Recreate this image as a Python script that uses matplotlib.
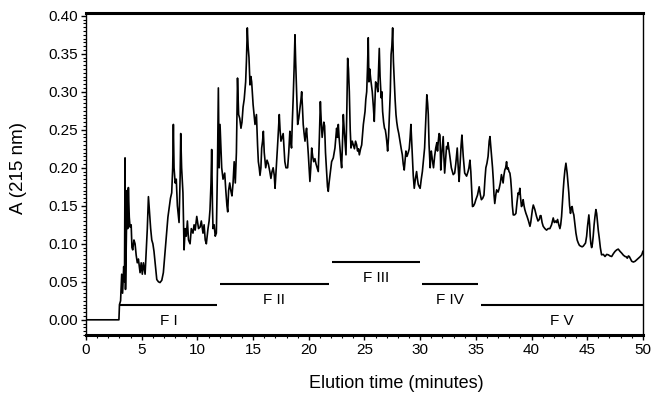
import matplotlib
matplotlib.use("Agg")
import matplotlib.pyplot as plt
from matplotlib.ticker import MultipleLocator

plt.rcParams['font.family'] = ['Liberation Sans', 'DejaVu Sans']

# chromatogram: elution time (min) and absorbance at 215 nm
time_min = [
    0, 2.95, 3.0, 3.1, 3.2, 3.28, 3.38, 3.45, 3.5, 3.54, 3.6, 3.68, 3.74, 3.8, 3.88, 3.95,
    4.05, 4.12, 4.19, 4.3, 4.4, 4.5, 4.6, 4.7, 4.85, 4.95, 5.05, 5.15, 5.3, 5.4, 5.5, 5.6,
    5.7, 5.8, 5.9, 6.0, 6.1, 6.2, 6.35, 6.5, 6.64, 6.8, 6.94, 7.1, 7.24, 7.35, 7.48, 7.58,
    7.69, 7.78, 7.84, 7.9, 8.0, 8.1, 8.2, 8.35, 8.45, 8.5, 8.58, 8.7, 8.8, 8.9, 9.0, 9.1,
    9.2, 9.34, 9.45, 9.6, 9.7, 9.8, 9.94, 10.1, 10.24, 10.35, 10.5, 10.6, 10.7, 10.8, 10.95,
    11.05, 11.13, 11.22, 11.28, 11.35, 11.4, 11.5, 11.6, 11.7, 11.8, 11.88, 11.95, 12.03,
    12.1, 12.18, 12.3, 12.45, 12.55, 12.65, 12.72, 12.8, 12.9, 13.0, 13.1, 13.2, 13.3, 13.4,
    13.5, 13.6, 13.7, 13.8, 13.91, 14.0, 14.1, 14.2, 14.33, 14.4, 14.48, 14.55, 14.63, 14.72,
    14.8, 14.87, 15.0, 15.08, 15.17, 15.3, 15.4, 15.47, 15.55, 15.62, 15.7, 15.77, 15.85,
    15.92, 16.0, 16.13, 16.25, 16.37, 16.5, 16.6, 16.7, 16.8, 16.9, 16.97, 17.1, 17.2, 17.35,
    17.42, 17.5, 17.6, 17.7, 17.78, 17.85, 17.95, 18.1, 18.2, 18.3, 18.38, 18.45, 18.52,
    18.6, 18.68, 18.76, 18.82, 18.88, 18.95, 19.0, 19.1, 19.21, 19.3, 19.36, 19.43, 19.5,
    19.58, 19.66, 19.73, 19.8, 19.88, 19.96, 20.03, 20.1, 20.18, 20.26, 20.35, 20.44, 20.55,
    20.65, 20.75, 20.85, 20.95, 21.04, 21.12, 21.2, 21.28, 21.35, 21.42, 21.5, 21.6, 21.68,
    21.75, 21.82, 21.9, 22.05, 22.2, 22.35, 22.5, 22.58, 22.65, 22.72, 22.8, 22.88, 22.95,
    23.02, 23.1, 23.18, 23.25, 23.34, 23.42, 23.49, 23.56, 23.64, 23.72, 23.79, 23.9, 24.0,
    24.1, 24.2, 24.3, 24.38, 24.46, 24.54, 24.65, 24.75, 24.9, 25.05, 25.12, 25.2, 25.27,
    25.34, 25.4, 25.47, 25.55, 25.62, 25.7, 25.8, 25.88, 25.95, 26.0, 26.1, 26.2, 26.27,
    26.33, 26.4, 26.5, 26.56, 26.63, 26.72, 26.8, 26.87, 26.94, 27.0, 27.08, 27.16, 27.24,
    27.32, 27.39, 27.46, 27.53, 27.6, 27.68, 27.75, 27.83, 27.9, 27.98, 28.08, 28.19, 28.3,
    28.4, 28.48, 28.57, 28.65, 28.72, 28.82, 28.93, 29.02, 29.1, 29.17, 29.24, 29.3, 29.38,
    29.47, 29.57, 29.68, 29.76, 29.83, 29.92, 30.0, 30.1, 30.2, 30.3, 30.4, 30.5, 30.6,
    30.67, 30.73, 30.8, 30.9, 30.95, 31.0, 31.1, 31.2, 31.3, 31.4, 31.5, 31.56, 31.63, 31.7,
    31.78, 31.85, 31.95, 32.07, 32.13, 32.2, 32.28, 32.37, 32.45, 32.5, 32.58, 32.67, 32.8,
    32.97, 33.1, 33.2, 33.33, 33.42, 33.5, 33.6, 33.68, 33.75, 33.87, 34.0, 34.17, 34.3,
    34.38, 34.47, 34.55, 34.6, 34.7, 34.8, 34.9, 35.0, 35.15, 35.3, 35.4, 35.5, 35.62, 35.73,
    35.82, 35.9, 36.0, 36.1, 36.2, 36.27, 36.33, 36.4, 36.5, 36.57, 36.63, 36.7, 36.8, 36.87,
    37.0, 37.1, 37.2, 37.3, 37.38, 37.45, 37.52, 37.6, 37.68, 37.76, 37.83, 37.9, 37.98,
    38.06, 38.13, 38.2, 38.28, 38.36, 38.48, 38.6, 38.7, 38.8, 38.88, 38.95, 39.02, 39.1,
    39.18, 39.25, 39.33, 39.4, 39.5, 39.6, 39.73, 39.86, 39.93, 40.0, 40.08, 40.16, 40.23,
    40.3, 40.38, 40.45, 40.58, 40.7, 40.78, 40.85, 40.95, 41.05, 41.2, 41.35, 41.5, 41.65,
    41.8, 41.95, 42.05, 42.16, 42.25, 42.34, 42.45, 42.55, 42.62, 42.7, 42.78, 42.85, 42.92,
    43.0, 43.09, 43.2, 43.28, 43.35, 43.42, 43.5, 43.58, 43.65, 43.72, 43.8, 43.9, 43.99,
    44.1, 44.2, 44.3, 44.4, 44.55, 44.65, 44.75, 44.85, 44.95, 45.03, 45.1, 45.15, 45.22,
    45.27, 45.33, 45.4, 45.47, 45.54, 45.62, 45.7, 45.78, 45.85, 45.93, 46.0, 46.08, 46.18,
    46.29, 46.45, 46.6, 46.75, 46.9, 47.05, 47.2, 47.35, 47.5, 47.65, 47.79, 47.95, 48.1,
    48.25, 48.4, 48.5, 48.6, 48.7, 48.78, 48.9, 49.0, 49.15, 49.3, 49.45, 49.6, 49.75, 49.9,
    50.0,
]
absorbance = [
    0, 0, 0.02, 0.025, 0.06, 0.035, 0.07, 0.05, 0.213, 0.04, 0.09, 0.17, 0.12, 0.174, 0.135, 0.122,
    0.125, 0.095, 0.092, 0.105, 0.1, 0.085, 0.075, 0.08, 0.062, 0.075, 0.06, 0.075, 0.06, 0.09, 0.12, 0.162,
    0.14, 0.12, 0.105, 0.1, 0.09, 0.075, 0.053, 0.05, 0.049, 0.052, 0.062, 0.09, 0.114, 0.135, 0.149, 0.16,
    0.167, 0.2, 0.257, 0.2, 0.18, 0.185, 0.15, 0.128, 0.19, 0.245, 0.2, 0.167, 0.092, 0.12, 0.11, 0.13,
    0.105, 0.1, 0.12, 0.114, 0.125, 0.118, 0.136, 0.12, 0.122, 0.13, 0.114, 0.125, 0.105, 0.1, 0.12,
    0.13, 0.145, 0.18, 0.224, 0.15, 0.12, 0.125, 0.11, 0.114, 0.2, 0.305, 0.2, 0.257,
    0.23, 0.2, 0.185, 0.193, 0.17, 0.15, 0.142, 0.17, 0.18, 0.17, 0.163, 0.18, 0.208, 0.18,
    0.22, 0.318, 0.27, 0.265, 0.252, 0.26, 0.28, 0.29, 0.313, 0.34, 0.384, 0.36, 0.345, 0.309,
    0.32, 0.313, 0.283, 0.27, 0.257, 0.27, 0.23, 0.208, 0.2, 0.19, 0.2, 0.226, 0.235,
    0.248, 0.22, 0.2, 0.21, 0.205, 0.195, 0.186, 0.195, 0.2, 0.19, 0.173, 0.205, 0.23, 0.27,
    0.25, 0.235, 0.24, 0.245, 0.225, 0.208, 0.2, 0.2, 0.22, 0.248, 0.235, 0.226, 0.26,
    0.292, 0.33, 0.375, 0.34, 0.313, 0.28, 0.257, 0.265, 0.279, 0.29, 0.3, 0.28, 0.257,
    0.245, 0.235, 0.245, 0.252, 0.235, 0.217, 0.2, 0.182, 0.2, 0.226, 0.215, 0.208, 0.212,
    0.205, 0.2, 0.195, 0.24, 0.287, 0.26, 0.24, 0.25, 0.26, 0.255, 0.22, 0.195, 0.175,
    0.169, 0.18, 0.19, 0.208, 0.213, 0.226, 0.252, 0.24, 0.257, 0.24, 0.226, 0.21, 0.2,
    0.23, 0.27, 0.25, 0.235, 0.217, 0.28, 0.344, 0.33, 0.3, 0.25, 0.226, 0.235, 0.23,
    0.225, 0.235, 0.23, 0.222, 0.225, 0.217, 0.225, 0.23, 0.257, 0.274, 0.29, 0.3, 0.33,
    0.371, 0.313, 0.33, 0.318, 0.31, 0.3, 0.28, 0.261, 0.29, 0.313, 0.31, 0.3, 0.33,
    0.357, 0.32, 0.292, 0.3, 0.274, 0.26, 0.252, 0.25, 0.243, 0.235, 0.222, 0.24, 0.27,
    0.3, 0.349, 0.36, 0.384, 0.34, 0.313, 0.29, 0.27, 0.26, 0.252, 0.245, 0.235, 0.225,
    0.217, 0.205, 0.197, 0.21, 0.222, 0.215, 0.22, 0.225, 0.24, 0.257, 0.235, 0.217, 0.19,
    0.173, 0.185, 0.195, 0.185, 0.178, 0.175, 0.173, 0.185, 0.195, 0.21, 0.226, 0.26, 0.296,
    0.285, 0.27, 0.23, 0.2, 0.215, 0.222, 0.21, 0.2, 0.215, 0.226, 0.233, 0.222, 0.235, 0.245,
    0.243, 0.197, 0.22, 0.241, 0.215, 0.193, 0.21, 0.228, 0.225, 0.233, 0.225, 0.215, 0.2,
    0.191, 0.193, 0.205, 0.226, 0.2, 0.182, 0.21, 0.23, 0.243, 0.215, 0.193, 0.189, 0.195,
    0.2, 0.21, 0.195, 0.18, 0.149, 0.15, 0.153, 0.158, 0.164, 0.175, 0.165, 0.158, 0.16, 0.164,
    0.185, 0.2, 0.206, 0.215, 0.235, 0.241, 0.23, 0.219, 0.2, 0.184, 0.165, 0.153, 0.165, 0.171,
    0.168, 0.173, 0.18, 0.191, 0.185, 0.18, 0.19, 0.197, 0.2, 0.208, 0.198, 0.2, 0.195,
    0.193, 0.185, 0.171, 0.15, 0.138, 0.138, 0.14, 0.155, 0.167, 0.165, 0.173, 0.16, 0.149,
    0.152, 0.158, 0.15, 0.145, 0.14, 0.136, 0.13, 0.123, 0.128, 0.136, 0.145, 0.151, 0.148,
    0.145, 0.14, 0.136, 0.13, 0.132, 0.137, 0.137, 0.128, 0.123, 0.12, 0.118, 0.12, 0.12,
    0.125, 0.134, 0.128, 0.13, 0.128, 0.132, 0.125, 0.12, 0.125, 0.136, 0.155, 0.171, 0.185,
    0.197, 0.206, 0.193, 0.18, 0.167, 0.15, 0.14, 0.148, 0.149, 0.142, 0.138, 0.125, 0.114,
    0.105, 0.101, 0.098, 0.097, 0.096, 0.097, 0.099, 0.101, 0.11, 0.123, 0.132, 0.138, 0.125,
    0.11, 0.1, 0.095, 0.1, 0.11, 0.125, 0.136, 0.145, 0.14, 0.127, 0.117, 0.108, 0.095,
    0.0855, 0.086, 0.0833, 0.086, 0.0855, 0.084, 0.0833, 0.087, 0.09, 0.092, 0.093, 0.09, 0.0877,
    0.085, 0.0833, 0.083, 0.081, 0.084, 0.0833, 0.08, 0.077, 0.076, 0.077, 0.079, 0.081, 0.083, 0.0855,
    0.09,
]

# collected fractions
frac_names = ["F I", "F II", "F III", "F IV", "F V"]
frac_start = [3.0, 12.0, 22.1, 30.2, 35.5]
frac_end = [11.8, 21.8, 30.0, 35.2, 50.0]
frac_level = [0.019, 0.047, 0.076, 0.047, 0.019]

fig = plt.figure(figsize=(6.52, 3.96), dpi=100)
ax = fig.add_axes([0.132, 0.154, 0.854, 0.813])

ax.plot(time_min, absorbance, color="black", lw=1.2)

for name, x0, x1, lev in zip(frac_names, frac_start, frac_end, frac_level):
    ax.plot([x0, x1], [lev, lev], color="black", lw=1.5, solid_capstyle="butt")
    ax.text((x0 + x1) / 2, lev - 0.021, name, ha="center", va="center", fontsize=11)

ax.set_xlim(0, 50)
ax.set_ylim(-0.02, 0.4035)
ax.xaxis.set_major_locator(MultipleLocator(5))
ax.xaxis.set_minor_locator(MultipleLocator(1))
ax.yaxis.set_major_locator(MultipleLocator(0.05))
ax.yaxis.set_minor_locator(MultipleLocator(0.005))
ax.yaxis.set_major_formatter(plt.FormatStrFormatter("%.2f"))
ax.set_yticks([0.0, 0.05, 0.1, 0.15, 0.2, 0.25, 0.3, 0.35, 0.4])
ax.tick_params(which="major", direction="out", length=3.5, width=1, labelsize=11, pad=2)
ax.tick_params(which="minor", direction="out", length=2, width=0.8)

for side in ["bottom", "top"]:
    ax.spines[side].set_linewidth(2.2)
for side in ["left", "right"]:
    ax.spines[side].set_linewidth(1.0)

ax.set_xlabel("Elution time (minutes)", fontsize=13)
ax.xaxis.set_label_coords(0.558, -0.124)
ax.set_ylabel("A (215 nm)", fontsize=13.5)
ax.yaxis.set_label_coords(-0.106, 0.519)

fig.savefig("out.png", dpi=100)
